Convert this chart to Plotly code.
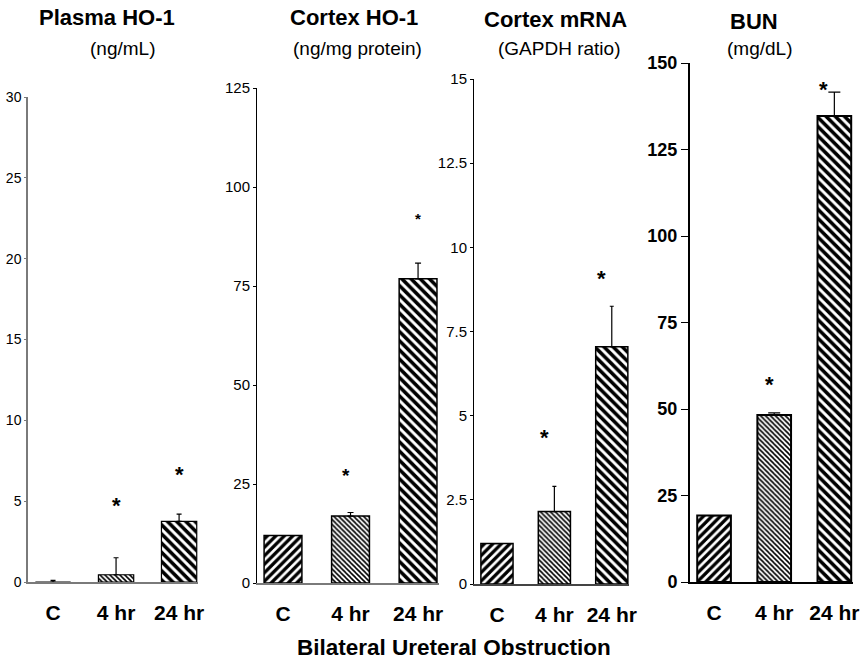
import plotly.graph_objects as go

# ---------------- data ----------------
categories = ["C", "4 hr", "24 hr"]

plasma_vals = [0.0, 0.45, 3.75]
plasma_err = [0.1, 1.05, 0.45]
plasma_star = [None, 4.8, 6.7]

cortex_vals = [12.0, 16.9, 76.8]
cortex_err = [0.0, 0.9, 4.0]
cortex_star = [None, 27.5, 92.2]

mrna_vals = [1.2, 2.15, 7.05]
mrna_err = [0.0, 0.75, 1.2]
mrna_star = [None, 4.37, 9.09]

bun_vals = [19.2, 48.3, 134.7]
bun_err = [0.0, 0.6, 6.9]
bun_star = [None, 57.5, 142.5]

titles = ["Plasma HO-1", "Cortex HO-1", "Cortex mRNA", "BUN"]
units = ["(ng/mL)", "(ng/mg protein)", "(GAPDH ratio)", "(mg/dL)"]
y_max = [30, 125, 15, 150]
y_step = [5, 25, 2.5, 25]
x_label = "Bilateral Ureteral Obstruction"

values = [plasma_vals, cortex_vals, mrna_vals, bun_vals]
errors = [plasma_err, cortex_err, mrna_err, bun_err]
stars = [plasma_star, cortex_star, mrna_star, bun_star]

# ---------------- layout / style ----------------
W, H = 867, 660
SANS = "Liberation Sans, Arial, sans-serif"

panels = [
    dict(px=(28, 198), py=(97, 582), xr=(-0.397, 2.3), axc="#7a7a7a", basec="#7a7a7a", axw=1.5,
         tfont=dict(family=SANS, size=14, color="black"), ticklen=2, errw=[3, 2.5, 2.5],
         starsize=[22, 22, 22], starshift=[0, 0, 0], barw=1.2,
         title_xy=(107, 18), unit_xy=(122, 48)),
    dict(px=(257, 439), py=(88, 583), xr=(-0.385, 2.31), axc="black", basec="#7a7a7a", axw=1,
         tfont=dict(family=SANS, size=15, color="black"), ticklen=3, errw=[3, 3, 3],
         starsize=[22, 19, 15], starshift=[0, -5, 0], barw=1.5,
         title_xy=(354, 18), unit_xy=(357, 48)),
    dict(px=(474, 629), py=(79, 584), xr=(-0.4, 2.3), axc="black", basec="#444444", axw=1,
         tfont=dict(family=SANS, size=15, color="black"), ticklen=3, errw=[2, 2, 2],
         starsize=[22, 22, 22], starshift=[0, -10, -10], barw=1.5,
         title_xy=(555, 20), unit_xy=(559, 48)),
    dict(px=(690, 853), py=(63, 582), xr=(-0.4, 2.31), axc="black", basec="black", axw=2,
         tfont=dict(family=SANS, size=18, color="black", weight="bold"), ticklen=7, errw=[6, 6, 5.5],
         starsize=[22, 22, 22], starshift=[0, -5, -11], barw=2,
         title_xy=(754, 21), unit_xy=(759, 48)),
]

pattern_shape = ["/", "\\", "\\"]
pattern_size = [6, 3.5, 6.5]
pattern_solid = [0.55, 0.45, 0.55]

fig = go.Figure()
annotations = []

for i, p in enumerate(panels):
    n = "" if i == 0 else str(i + 1)
    xa, ya = "x" + n, "y" + n
    fig.add_trace(go.Bar(
        x=categories, y=values[i], xaxis=xa, yaxis=ya, width=0.56,
        marker=dict(color="white",
                    line=dict(color="black", width=p["barw"]),
                    pattern=dict(shape=pattern_shape, size=pattern_size,
                                 solidity=pattern_solid, fgcolor="black",
                                 fgopacity=1, bgcolor="white", fillmode="overlay")),
        error_y=dict(type="data", symmetric=False, array=errors[i],
                     arrayminus=[0, 0, 0], color="black", thickness=1.2,
                     width=p["errw"][1]),
        showlegend=False, hoverinfo="skip",
    ))
    layout_x = dict(
        domain=[p["px"][0] / W, p["px"][1] / W], range=list(p["xr"]),
        anchor=ya, type="category", showline=True, linecolor=p["basec"],
        linewidth=p["axw"] if i == 3 else 1.5, showgrid=False, zeroline=False,
        ticks="outside", ticklen=11, tickcolor="rgba(0,0,0,0)", automargin=False,
        tickfont=dict(family=SANS, size=21, color="black", weight="bold"),
        fixedrange=True,
    )
    layout_y = dict(
        domain=[1 - p["py"][1] / H, 1 - p["py"][0] / H], range=[0, y_max[i]],
        anchor=xa, showline=True, linecolor=p["axc"], linewidth=p["axw"],
        showgrid=False, zeroline=False, ticks="outside", ticklen=p["ticklen"],
        tickcolor=p["axc"], tickwidth=1, dtick=y_step[i], tick0=0, automargin=False,
        tickfont=p["tfont"], fixedrange=True,
    )
    fig.update_layout(**{"xaxis" + n: layout_x, "yaxis" + n: layout_y})

    for j, s in enumerate(stars[i]):
        if s is None:
            continue
        annotations.append(dict(
            x=categories[j], y=s, xref=xa, yref=ya, text="*", showarrow=False,
            xanchor="center", yanchor="middle", yshift=-1,
            xshift=p["starshift"][j],
            font=dict(family=SANS, size=p["starsize"][j], color="black", weight="bold"),
        ))

    annotations.append(dict(
        x=p["title_xy"][0] / W, y=1 - p["title_xy"][1] / H, xref="paper", yref="paper",
        text=titles[i], showarrow=False, xanchor="center", yanchor="middle",
        font=dict(family=SANS, size=22, color="black", weight="bold"),
    ))
    annotations.append(dict(
        x=p["unit_xy"][0] / W, y=1 - p["unit_xy"][1] / H, xref="paper", yref="paper",
        text=units[i], showarrow=False, xanchor="center", yanchor="middle",
        font=dict(family=SANS, size=19, color="black"),
    ))

annotations.append(dict(
    x=454 / W, y=1 - 647 / H, xref="paper", yref="paper", text=x_label,
    showarrow=False, xanchor="center", yanchor="middle",
    font=dict(family=SANS, size=22.5, color="black", weight="bold"),
))

fig.update_layout(
    template="none",
    width=W, height=H, margin=dict(l=0, r=0, t=0, b=0, pad=0, autoexpand=False),
    paper_bgcolor="white", plot_bgcolor="white",
    annotations=annotations, bargap=0.44,
)

fig.write_html("out.html")
